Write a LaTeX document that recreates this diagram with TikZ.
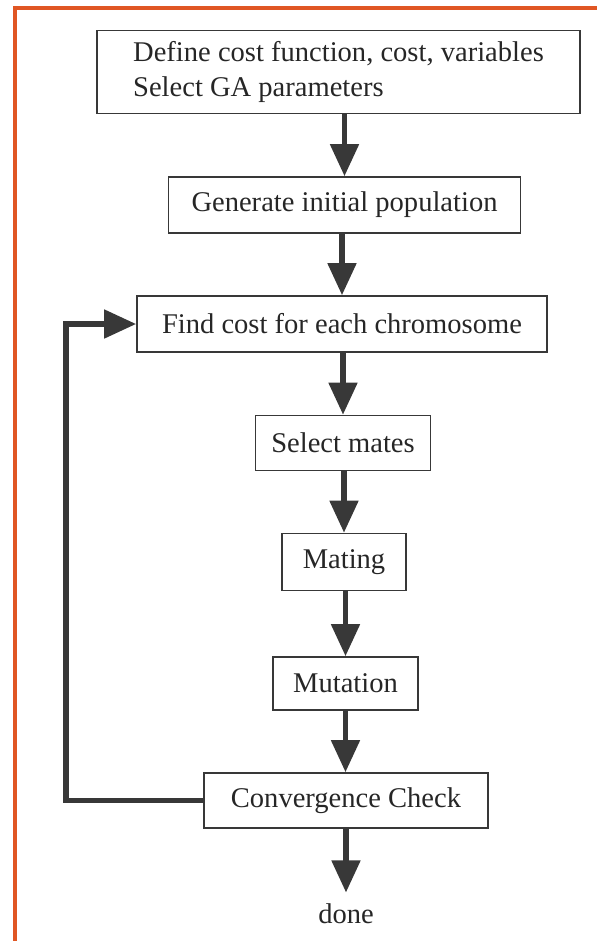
\documentclass[tikz,border=0pt]{standalone}
\usepackage{fontspec}
\setmainfont{Liberation Serif}
\usetikzlibrary{arrows.meta}
\definecolor{framecol}{RGB}{224,86,36}
\colorlet{inkcol}{black!78}
\tikzset{
  stepbox/.style={draw=inkcol, line width=1.2pt, text=black!85,
    font=\fontsize{20.3}{25}\selectfont, inner sep=0pt},
  flow/.style={draw=inkcol, line width=3.6pt,
    -{Triangle[length=0.8cm,width=0.7cm]}},
}

\begin{document}
\begin{tikzpicture}[x=0.025cm, y=-0.025cm]
\useasboundingbox (0,0) rectangle (597,941);

% Frame
\draw[framecol, line width=2.4pt] (15,941) -- (15,8) -- (597,8);

% Steps
\node[stepbox, align=left, minimum width=12.075cm, minimum height=2.075cm]
  (define) at (338.5,72) {Define cost function, cost, variables\\Select GA parameters};
\node[stepbox, minimum width=8.8cm, minimum height=1.4cm]
  (init) at (344.5,205) {Generate initial population};
\node[stepbox, minimum width=10.25cm, minimum height=1.4cm]
  (cost) at (342,324) {Find cost for each chromosome};
\node[stepbox, minimum width=4.375cm, minimum height=1.375cm]
  (select) at (343,443) {Select mates};
\node[stepbox, minimum width=3.1cm, minimum height=1.425cm]
  (mating) at (344,562) {Mating};
\node[stepbox, minimum width=3.625cm, minimum height=1.325cm]
  (mutation) at (345.5,683.5) {Mutation};
\node[stepbox, minimum width=7.1cm, minimum height=1.375cm]
  (check) at (346,800.5) {Convergence Check};
\node[font=\fontsize{20.3}{25}\selectfont, text=black!85, inner sep=2pt]
  (done) at (346,914) {done};

% Flow
\draw[flow] (define.south -| init.north) -- (init.north);
\draw[flow] (init.south -| cost.north) -- (cost.north);
\draw[flow] (cost.south -| select.north) -- (select.north);
\draw[flow] (select.south -| mating.north) -- (mating.north);
\draw[flow] (mating.south -| mutation.north) -- (mutation.north);
\draw[flow] (mutation.south) -- (mutation.south |- check.north);
\draw[flow, shorten >=6pt] (check.south -| done.north) -- (done.north);

% Loop back
\coordinate (back) at (66,800.5);
\draw[flow] (check.west) -- (back) |- (cost.west);

\end{tikzpicture}
\end{document}
